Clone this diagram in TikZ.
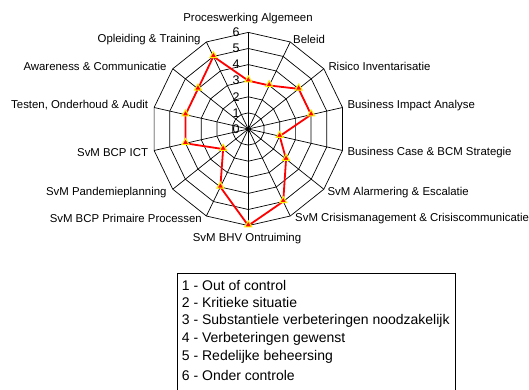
\documentclass[tikz,border=0pt]{standalone}
\usepackage{fontspec}
\setmainfont{Liberation Sans}
\usetikzlibrary{shapes.geometric}
\begin{document}
\begin{tikzpicture}[x=1pt,y=1pt,
  lbl/.style={font=\fontsize{11.4}{13}\selectfont, inner sep=0pt},
  num/.style={font=\fontsize{12.5}{14}\selectfont, inner sep=0pt, anchor=east},
  gridline/.style={draw=black, line width=0.7pt},
  series/.style={draw=red, line width=1.8pt, line join=round},
  mk/.style={regular polygon, regular polygon sides=3, fill=red, draw=yellow, line width=1pt, minimum size=8pt, inner sep=0pt},
  legtext/.style={font=\fontsize{14}{16}\selectfont, anchor=west, inner sep=0pt},
  legbox/.style={draw=black, line width=0.8pt}]
\useasboundingbox (0,0) rectangle (529,390);
\def\u{16.1}
\coordinate (C) at (248.3,261);
% outer vertices
\foreach \i in {0,...,13} {
  \coordinate (V\i) at ([shift={(90-\i*360/14:6*\u)}]C);
}
% rings
\foreach \r in {1,...,6} {
  \draw[gridline] ([shift={(90:\r*\u)}]C)
    \foreach \i in {1,...,13} { -- ([shift={(90-\i*360/14:\r*\u)}]C) } -- cycle;
}
% spokes
\foreach \i in {0,...,13} { \draw[gridline] (C) -- (V\i); }
% scale numbers
\foreach \r in {0,...,6} { \node[num] (N\r) at ([shift={(-8.5,\r*\u)}]C) {\r}; }
% data
\foreach \v [count=\j from 0] in {3,3,4,4,2,3,5,6,4,2,4,4,4,5} {
  \coordinate (P\j) at ([shift={(90-\j*360/14:\v*\u)}]C);
}
\draw[series] (P0) -- (P1) -- (P2) -- (P3) -- (P4) -- (P5) -- (P6) -- (P7)
  -- (P8) -- (P9) -- (P10) -- (P11) -- (P12) -- (P13) -- cycle;
\foreach \j in {0,...,13} { \node[mk] (M\j) at ([yshift=0.8pt]P\j) {}; }
% axis labels
\node[lbl] (L0) at (248,371.7) {Proceswerking Algemeen};
\node[lbl, anchor=west] (L1) at (293,350.7) {Beleid};
\node[lbl, anchor=west] (L2) at (328.3,324) {Risico Inventarisatie};
\node[lbl, anchor=west] (L3) at (347.3,284.7) {Business Impact Analyse};
\node[lbl, anchor=west] (L4) at (347.3,237.7) {Business Case \& BCM Strategie};
\node[lbl, anchor=west] (L5) at (327.3,197.7) {SvM Alarmering \& Escalatie};
\node[lbl, anchor=west] (L6) at (295,171.3) {SvM Crisismanagement \& Crisiscommunicatie};
\node[lbl] (L7) at (247,151.7) {SvM BHV Ontruiming};
\node[lbl, anchor=east] (L8) at (202,171.7) {SvM BCP Primaire Processen};
\node[lbl, anchor=east] (L9) at (166.7,197.7) {SvM Pandemieplanning};
\node[lbl, anchor=east] (L10) at (148.3,237.7) {SvM BCP ICT};
\node[lbl, anchor=east] (L11) at (148.3,284.7) {Testen, Onderhoud \& Audit};
\node[lbl, anchor=east] (L12) at (166.7,324) {Awareness \& Communicatie};
\node[lbl, anchor=east] (L13) at (200.7,350.7) {Opleiding \& Training};
% legend
\draw[legbox] (177.3,-2) rectangle (455.7,116.7);
\node[legtext] (G1) at (181.7,105) {1 - Out of control};
\node[legtext] (G2) at (181.7,87.3) {2 - Kritieke situatie};
\node[legtext] (G3) at (181.7,69.3) {3 - Substantiele verbeteringen noodzakelijk};
\node[legtext] (G4) at (181.7,50.7) {4 - Verbeteringen gewenst};
\node[legtext] (G5) at (181.7,32.7) {5 - Redelijke beheersing};
\node[legtext] (G6) at (181.7,14.7) {6 - Onder controle};
\end{tikzpicture}
\end{document}
